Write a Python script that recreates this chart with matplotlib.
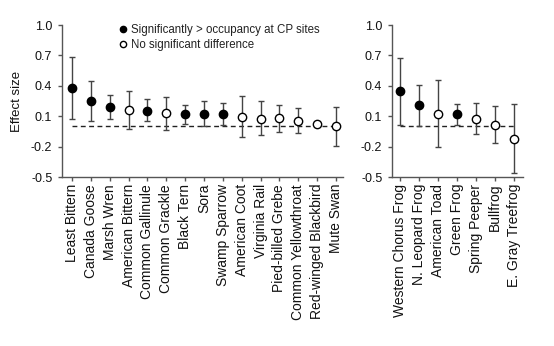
import matplotlib
matplotlib.use("Agg")
import matplotlib.pyplot as plt
from matplotlib.lines import Line2D
import numpy as np

plt.rcParams['font.family'] = ['Liberation Sans', 'DejaVu Sans']

birds = ["Least Bittern", "Canada Goose", "Marsh Wren", "American Bittern",
         "Common Gallinule", "Common Grackle", "Black Tern", "Sora",
         "Swamp Sparrow", "American Coot", "Virginia Rail", "Pied-billed Grebe",
         "Common Yellowthroat", "Red-winged Blackbird", "Mute Swan"]
bird_effect = [0.375, 0.253, 0.188, 0.161, 0.155, 0.128, 0.122, 0.122,
               0.12, 0.095, 0.075, 0.079, 0.05, 0.023, 0.0]
bird_upper = [0.68, 0.45, 0.306, 0.352, 0.267, 0.293, 0.214, 0.247,
              0.227, 0.30, 0.25, 0.214, 0.178, 0.046, 0.19]
bird_lower = [0.072, 0.056, 0.069, -0.023, 0.05, -0.036, 0.023, 0.003,
              0.01, -0.108, -0.09, -0.056, -0.069, 0.0, -0.19]
bird_sig = [True, True, True, False, True, False, True, True,
            True, False, False, False, False, False, False]

frogs = ["Western Chorus Frog", "N. Leopard Frog", "American Toad", "Green Frog",
         "Spring Peeper", "Bullfrog", "E. Gray Treefrog"]
frog_effect = [0.345, 0.207, 0.125, 0.119, 0.075, 0.016, -0.122]
frog_upper = [0.674, 0.405, 0.457, 0.22, 0.227, 0.20, 0.22]
frog_lower = [0.01, 0.003, -0.2, 0.01, -0.076, -0.168, -0.464]
frog_sig = [True, True, False, True, False, False, False]

yticks = [1.0, 0.7, 0.4, 0.1, -0.2, -0.5]
ytick_labels = ["1.0", "0.7", "0.4", "0.1", "-0.2", "-0.5"]

spine_col = "#555555"

fig = plt.figure(figsize=(5.54, 3.46), dpi=100)
W, H = 554, 346

def make_ax(x0, x1, y_top, y_bot):
    return fig.add_axes([x0 / W, (H - y_bot) / H, (x1 - x0) / W, (y_bot - y_top) / H])

ax1 = make_ax(62, 343, 25, 177)
ax2 = make_ax(392, 523, 25, 177)

def draw(ax, names, eff, up, lo, sig, xlim):
    x = np.arange(len(names))
    eff = np.array(eff); up = np.array(up); lo = np.array(lo)
    ax.plot([x[0], x[-1]], [0, 0], linestyle=(0, (3.5, 2.5)), color="#222222", lw=1.0, zorder=1)
    ax.errorbar(x, eff, yerr=[eff - lo, up - eff], fmt='none', ecolor="#444444",
                elinewidth=1.0, capsize=2.5, capthick=1.0, zorder=2)
    for xi, e, s in zip(x, eff, sig):
        ax.plot(xi, e, 'o', ms=6, mec='black', mfc='black' if s else 'white',
                mew=1.0, zorder=3)
    ax.set_xlim(*xlim)
    ax.set_ylim(-0.5, 1.0)
    ax.set_yticks(yticks)
    ax.set_yticklabels(ytick_labels, fontsize=9)
    ax.set_xticks(x)
    ax.set_xticklabels(names, rotation=90, fontsize=10)
    for s in ['top', 'right']:
        ax.spines[s].set_visible(False)
    for s in ['left', 'bottom']:
        ax.spines[s].set_color(spine_col)
        ax.spines[s].set_linewidth(1.0)
    ax.tick_params(axis='both', colors=spine_col, labelcolor='#111111',
                   length=3, width=1.0, direction='out')
    ax.tick_params(axis='y', pad=4)
    ax.tick_params(axis='x', pad=2)

draw(ax1, birds, bird_effect, bird_upper, bird_lower, bird_sig, (-0.53, 14.37))
draw(ax2, frogs, frog_effect, frog_upper, frog_lower, frog_sig, (-0.42, 6.47))

ax1.set_ylabel("Effect size", fontsize=9.5, labelpad=6, color='#111111')

handles = [Line2D([], [], marker='o', ls='none', ms=4.5, mfc='black', mec='black'),
           Line2D([], [], marker='o', ls='none', ms=4.5, mfc='white', mec='black', mew=1.0)]
ax1.legend(handles, ["Significantly > occupancy at CP sites", "No significant difference"],
           loc='upper left', bbox_to_anchor=(117 / W, (H - 24) / H),
           bbox_transform=fig.transFigure, frameon=False, fontsize=8.3,
           handletextpad=0.2, labelspacing=0.3, handlelength=1.0, borderpad=0.0,
           borderaxespad=0.0, labelcolor='#222222')

fig.savefig("out.png", dpi=100)
